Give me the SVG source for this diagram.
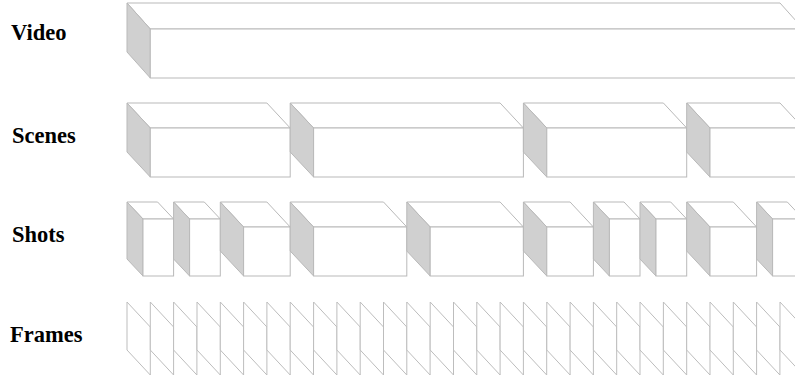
<svg xmlns="http://www.w3.org/2000/svg" xmlns:xlink="http://www.w3.org/1999/xlink" width="795" height="378" viewBox="0 0 795 378">
<style>
.lbl{font-family:"Liberation Serif","Times New Roman",serif;font-weight:bold;font-size:22.5px;fill:#000}
.top,.front{fill:#fff;stroke:#b9b9b9;stroke-width:1}
.side{fill:#d0d0d0;stroke:#b9b9b9;stroke-width:1}
.frm{fill:#fff;stroke:#bdbdbd;stroke-width:1}
</style>
<defs>
<polygon id="fr" class="frm" points="0,0 23.3,25 23.3,73 0,48"/>
</defs>
<rect width="795" height="378" fill="#fff"/>
<g id="labels">
<text class="lbl" x="11" y="40">Video</text>
<text class="lbl" x="12" y="143">Scenes</text>
<text class="lbl" x="12" y="242">Shots</text>
<text class="lbl" x="10" y="342">Frames</text>
</g>
<g id="video">
<polygon class="top" points="127,3 780,3 803.3,29 150.3,29"/>
<polygon class="side" points="127,3 150.3,29 150.3,78 127,52"/>
<rect class="front" x="150.3" y="29" width="653" height="49"/>
</g>
<g id="scene1">
<polygon class="top" points="127,103 266.9,103 290.2,128 150.3,128"/>
<polygon class="side" points="127,103 150.3,128 150.3,177 127,152"/>
<rect class="front" x="150.3" y="128" width="139.9" height="49"/>
</g>
<g id="scene2">
<polygon class="top" points="290.2,103 500.1,103 523.4,128 313.6,128"/>
<polygon class="side" points="290.2,103 313.6,128 313.6,177 290.2,152"/>
<rect class="front" x="313.6" y="128" width="209.8" height="49"/>
</g>
<g id="scene3">
<polygon class="top" points="523.4,103 663.4,103 686.7,128 546.8,128"/>
<polygon class="side" points="523.4,103 546.8,128 546.8,177 523.4,152"/>
<rect class="front" x="546.8" y="128" width="139.9" height="49"/>
</g>
<g id="scene4">
<polygon class="top" points="686.7,103 780,103 803.3,128 710,128"/>
<polygon class="side" points="686.7,103 710,128 710,177 686.7,152"/>
<rect class="front" x="710" y="128" width="93.3" height="49"/>
</g>
<g id="shot1">
<polygon class="top" points="127,202 157.6,202 173.6,219 143,219"/>
<polygon class="side" points="127,202 143,219 143,276 127,259"/>
<rect class="front" x="143" y="219" width="30.6" height="57"/>
</g>
<g id="shot2">
<polygon class="top" points="173.6,202 204.3,202 220.3,219 189.6,219"/>
<polygon class="side" points="173.6,202 189.6,219 189.6,276 173.6,259"/>
<rect class="front" x="189.6" y="219" width="30.7" height="57"/>
</g>
<g id="shot3">
<polygon class="top" points="220.3,202 266.9,202 290.2,227 243.6,227"/>
<polygon class="side" points="220.3,202 243.6,227 243.6,276 220.3,251"/>
<rect class="front" x="243.6" y="227" width="46.6" height="49"/>
</g>
<g id="shot4">
<polygon class="top" points="290.2,202 383.5,202 406.8,227 313.6,227"/>
<polygon class="side" points="290.2,202 313.6,227 313.6,276 290.2,251"/>
<rect class="front" x="313.6" y="227" width="93.2" height="49"/>
</g>
<g id="shot5">
<polygon class="top" points="406.8,202 500.1,202 523.4,227 430.2,227"/>
<polygon class="side" points="406.8,202 430.2,227 430.2,276 406.8,251"/>
<rect class="front" x="430.2" y="227" width="93.2" height="49"/>
</g>
<g id="shot6">
<polygon class="top" points="523.4,202 570.1,202 593.4,227 546.8,227"/>
<polygon class="side" points="523.4,202 546.8,227 546.8,276 523.4,251"/>
<rect class="front" x="546.8" y="227" width="46.6" height="49"/>
</g>
<g id="shot7">
<polygon class="top" points="593.4,202 624,202 640,219 609.4,219"/>
<polygon class="side" points="593.4,202 609.4,219 609.4,276 593.4,259"/>
<rect class="front" x="609.4" y="219" width="30.6" height="57"/>
</g>
<g id="shot8">
<polygon class="top" points="640,202 670.7,202 686.7,219 656,219"/>
<polygon class="side" points="640,202 656,219 656,276 640,259"/>
<rect class="front" x="656" y="219" width="30.7" height="57"/>
</g>
<g id="shot9">
<polygon class="top" points="686.7,202 733.3,202 756.6,227 710,227"/>
<polygon class="side" points="686.7,202 710,227 710,276 686.7,251"/>
<rect class="front" x="710" y="227" width="46.6" height="49"/>
</g>
<g id="shot10">
<polygon class="top" points="756.6,202 787.3,202 803.3,219 772.6,219"/>
<polygon class="side" points="756.6,202 772.6,219 772.6,276 756.6,259"/>
<rect class="front" x="772.6" y="219" width="30.7" height="57"/>
</g>
<g id="frames">
<use xlink:href="#fr" x="127" y="302"/>
<use xlink:href="#fr" x="150.3" y="302"/>
<use xlink:href="#fr" x="173.6" y="302"/>
<use xlink:href="#fr" x="197" y="302"/>
<use xlink:href="#fr" x="220.3" y="302"/>
<use xlink:href="#fr" x="243.6" y="302"/>
<use xlink:href="#fr" x="266.9" y="302"/>
<use xlink:href="#fr" x="290.2" y="302"/>
<use xlink:href="#fr" x="313.6" y="302"/>
<use xlink:href="#fr" x="336.9" y="302"/>
<use xlink:href="#fr" x="360.2" y="302"/>
<use xlink:href="#fr" x="383.5" y="302"/>
<use xlink:href="#fr" x="406.8" y="302"/>
<use xlink:href="#fr" x="430.2" y="302"/>
<use xlink:href="#fr" x="453.5" y="302"/>
<use xlink:href="#fr" x="476.8" y="302"/>
<use xlink:href="#fr" x="500.1" y="302"/>
<use xlink:href="#fr" x="523.4" y="302"/>
<use xlink:href="#fr" x="546.8" y="302"/>
<use xlink:href="#fr" x="570.1" y="302"/>
<use xlink:href="#fr" x="593.4" y="302"/>
<use xlink:href="#fr" x="616.7" y="302"/>
<use xlink:href="#fr" x="640" y="302"/>
<use xlink:href="#fr" x="663.4" y="302"/>
<use xlink:href="#fr" x="686.7" y="302"/>
<use xlink:href="#fr" x="710" y="302"/>
<use xlink:href="#fr" x="733.3" y="302"/>
<use xlink:href="#fr" x="756.6" y="302"/>
<use xlink:href="#fr" x="780" y="302"/>
</g>
</svg>
